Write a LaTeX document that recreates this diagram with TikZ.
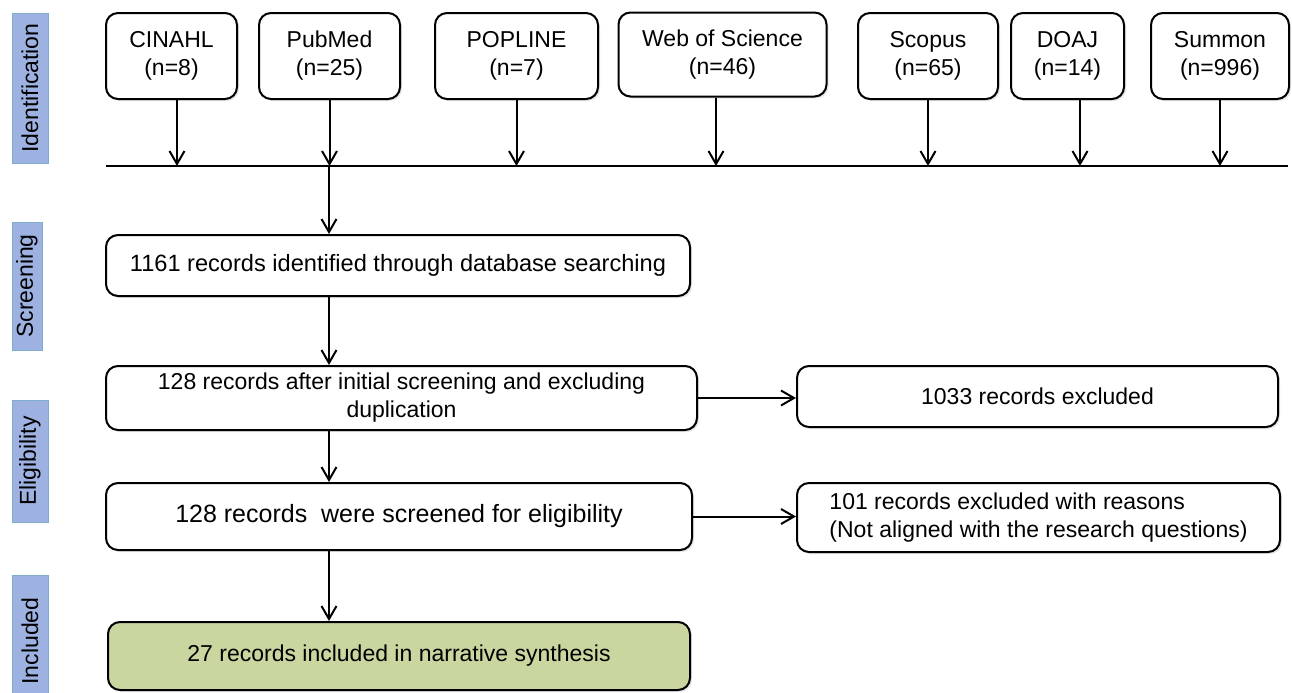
\documentclass[tikz,border=0pt]{standalone}
\usepackage{fontspec}
\setmainfont{Liberation Sans}
\usetikzlibrary{arrows.meta,shadows}

\definecolor{phaseblue}{RGB}{158,178,226}
\definecolor{phaseedge}{RGB}{125,172,204}
\definecolor{finalgreen}{RGB}{201,214,159}

\begin{document}
\begin{tikzpicture}[x=0.5pt,y=-0.5pt,
font=\fontsize{11.5}{14}\selectfont,
box/.style={draw,fill=white,line width=1pt,rounded corners=6pt,align=center,inner sep=2pt,
  drop shadow={shadow xshift=1pt,shadow yshift=-1pt,opacity=0.2}},
db/.style={box,minimum height=43pt},
stage/.style={box,minimum height=31pt},
final/.style={stage,fill=finalgreen},
phase/.style={draw=phaseedge,fill=phaseblue,rotate=90,minimum height=18pt,inner sep=0pt}
]

\tikzstyle{flow} = [-{Straight Barb[length=6.5pt,width=7.5pt]},line width=1pt]

\useasboundingbox (0,0) rectangle (1292,692);

  % phases on the left
  \node (ident)  [phase,minimum width=75pt]                at (30,88)   {Identification};
  \node (screenlab) [phase,minimum width=64pt,minimum height=15pt] at (27,286) {Screening};
  \node (elig)   [phase,minimum width=61pt]                at (30,461)  {Eligibility};
  \node (incl)   [phase,minimum width=66pt]                at (30,641)  {Included};

  % databases
  \node (cinahl) [db,minimum width=65.5pt]  at (171.5,56)  {CINAHL\\(n=8)};
  \node (pubmed) [db,minimum width=70.5pt]  at (329.5,56)  {PubMed\\(n=25)};
  \node (popline)[db,minimum width=81.5pt]  at (516.5,56)  {POPLINE\\(n=7)};
  \node (wos)    [db,minimum width=104pt,minimum height=42pt] at (722.5,54.5) {Web of Science\\(n=46)};
  \node (scopus) [db,minimum width=70pt]    at (928,56)    {Scopus\\(n=65)};
  \node (doaj)   [db,minimum width=56.5pt]  at (1067.5,56) {DOAJ\\(n=14)};
  \node (summon) [db,minimum width=69pt]    at (1220,56)   {Summon\\(n=996)};

  \coordinate (barL)  at (106,166);
  \coordinate (barR)  at (1288,166);
  \coordinate (split) at (329,166);

  % flow boxes
  \node (screen) [stage,minimum width=292pt,minimum height=30.5pt] at (398,265.5)
        {\fontsize{11.8}{14}\selectfont 1161 records identified through database searching};
  \node (after)  [stage,minimum width=295.5pt,minimum height=32pt] at (401.5,398)
        {128 records after initial screening and excluding\\duplication};
  \node (excl1)  [stage,minimum width=240.5pt,minimum height=30.5pt] at (1037.5,396.5)
        {1033 records excluded};
  \node (check)  [stage,minimum width=293pt,minimum height=33.5pt] at (399,516.5)
        {\fontsize{12.5}{15}\selectfont 128 records\ \ were screened for eligibility};
  \node (excl2)  [stage,minimum width=241.5pt,minimum height=34.5pt,align=left] at (1038.5,517.5)
        {101 records excluded with reasons\\(Not aligned with the research questions)};
  \node (synth)  [final,minimum width=291pt,minimum height=34pt] at (399,656)
        {27 records included in narrative synthesis};

\draw[line width=1pt] (barL) -- (barR);

\path[flow] ([xshift=2.75pt]cinahl.south) edge ([xshift=2.75pt]cinahl.south |- barL);
\path[flow] (pubmed.south) edge (pubmed.south |- barL);
\path[flow] (popline.south) edge (popline.south |- barL);
\path[flow] ([xshift=-3.25pt]wos.south) edge ([xshift=-3.25pt]wos.south |- barL);
\path[flow] (scopus.south) edge (scopus.south |- barL);
\path[flow] ([xshift=6.25pt]doaj.south) edge ([xshift=6.25pt]doaj.south |- barL);
\path[flow] (summon.south) edge (summon.south |- barL);

\path[flow] (split) edge (split |- screen.north);
\path[flow] (screen.south -| split) edge (after.north -| split);
\path[flow] (after.south -| split) edge (check.north -| split);
\path[flow] (check.south -| split) edge (synth.north -| split);

\path[flow] (after.east) edge (after.east -| excl1.west);
\path[flow] (check.east) edge (check.east -| excl2.west);

\end{tikzpicture}
\end{document}
